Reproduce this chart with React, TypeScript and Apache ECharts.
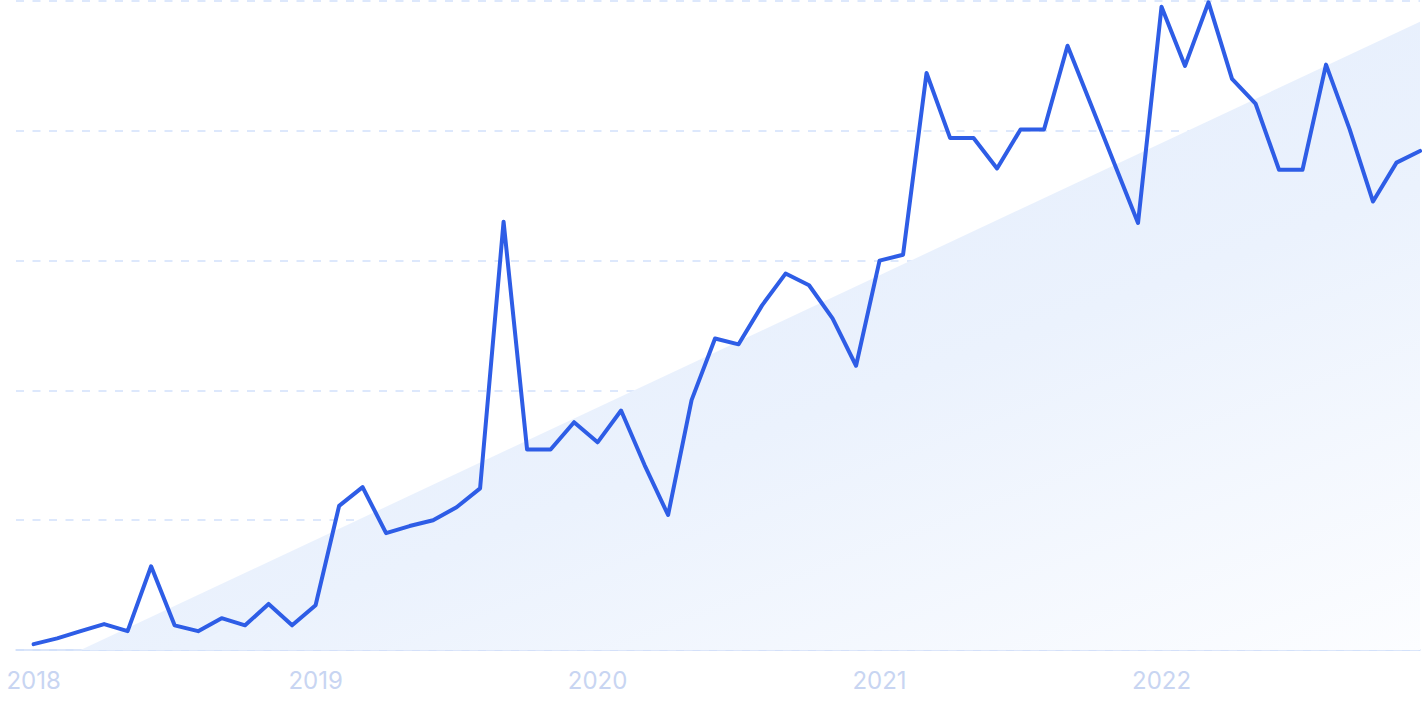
import React, { useEffect, useRef } from "react";
import * as echarts from "echarts";

const yearLabels = ["2018", "2019", "2020", "2021", "2022"];
const yearTickIndex = [0, 12, 24, 36, 48];

// Monthly values, Jan 2018 .. Dec 2022
const values = [
  0.9, 1.8, 2.9, 4.0, 2.9, 12.9, 3.8, 2.9, 4.9, 3.8, 7.1, 3.8,
  6.9, 22.2, 25.1, 18.0, 19.1, 20.0, 22.0, 24.9, 66.0, 30.9, 30.9, 35.1,
  32.0, 36.9, 28.5, 20.8, 38.5, 48.0, 47.1, 53.1, 58.0, 56.2, 51.1, 43.8,
  60.0, 60.9, 88.9, 78.9, 78.9, 74.2, 80.2, 80.2, 93.1, 84.0, 74.9, 65.8,
  99.1, 90.0, 99.8, 88.0, 84.2, 74.0, 74.0, 90.2, 80.3, 69.1, 75.1, 76.9,
];

// Trend line endpoints: [month index, value]
const trendStart = [2, 0];
const trendEnd = [59, 96.8];

export default function App() {
  const ref = useRef<HTMLDivElement>(null);

  useEffect(() => {
    if (!ref.current) return;
    const chart = echarts.init(ref.current, undefined, { renderer: "svg" });
    chart.setOption({
      animation: false,
      backgroundColor: "#ffffff",
      grid: { left: 16, right: 5, top: 1, bottom: 62, containLabel: false },
      xAxis: {
        type: "value",
        min: -0.75,
        max: 59,
        axisLine: { show: true, lineStyle: { color: "#d0def9", width: 1.5 } },
        axisTick: { show: false },
        splitLine: { show: false },
        axisLabel: {
          customValues: yearTickIndex,
          formatter: (v: number) => yearLabels[yearTickIndex.indexOf(Math.round(v))] ?? "",
          color: "#c8d5f2",
          fontSize: 24,
          fontFamily: "Inter",
          margin: 18,
        },
      },
      yAxis: {
        type: "value",
        min: 0,
        max: 100,
        interval: 20,
        axisLine: { show: false },
        axisTick: { show: false },
        axisLabel: { show: false },
        splitLine: {
          show: true,
          lineStyle: { color: "#d2e1fb", width: 1.5, type: [8, 8.5] },
        },
      },
      series: [
        {
          type: "line",
          data: [trendStart, trendEnd],
          symbol: "none",
          lineStyle: { width: 0 },
          z: 1,
          areaStyle: {
            opacity: 1,
            color: new echarts.graphic.LinearGradient(0.2, 0, 1, 1, [
              { offset: 0, color: "#e1ebfc" },
              { offset: 0.55, color: "#ebf2fd" },
              { offset: 1, color: "#fcfdff" },
            ]),
          },
        },
        {
          type: "line",
          data: values.map((v, i) => [i, v]),
          symbol: "none",
          z: 3,
          lineStyle: { color: "#2e5de6", width: 4, cap: "round", join: "round" },
        },
      ],
    });
    return () => chart.dispose();
  }, []);

  return (
    <div
      ref={ref}
      style={{ position: "absolute", left: 0, top: 0, width: 1425, height: 712 }}
    />
  );
}
